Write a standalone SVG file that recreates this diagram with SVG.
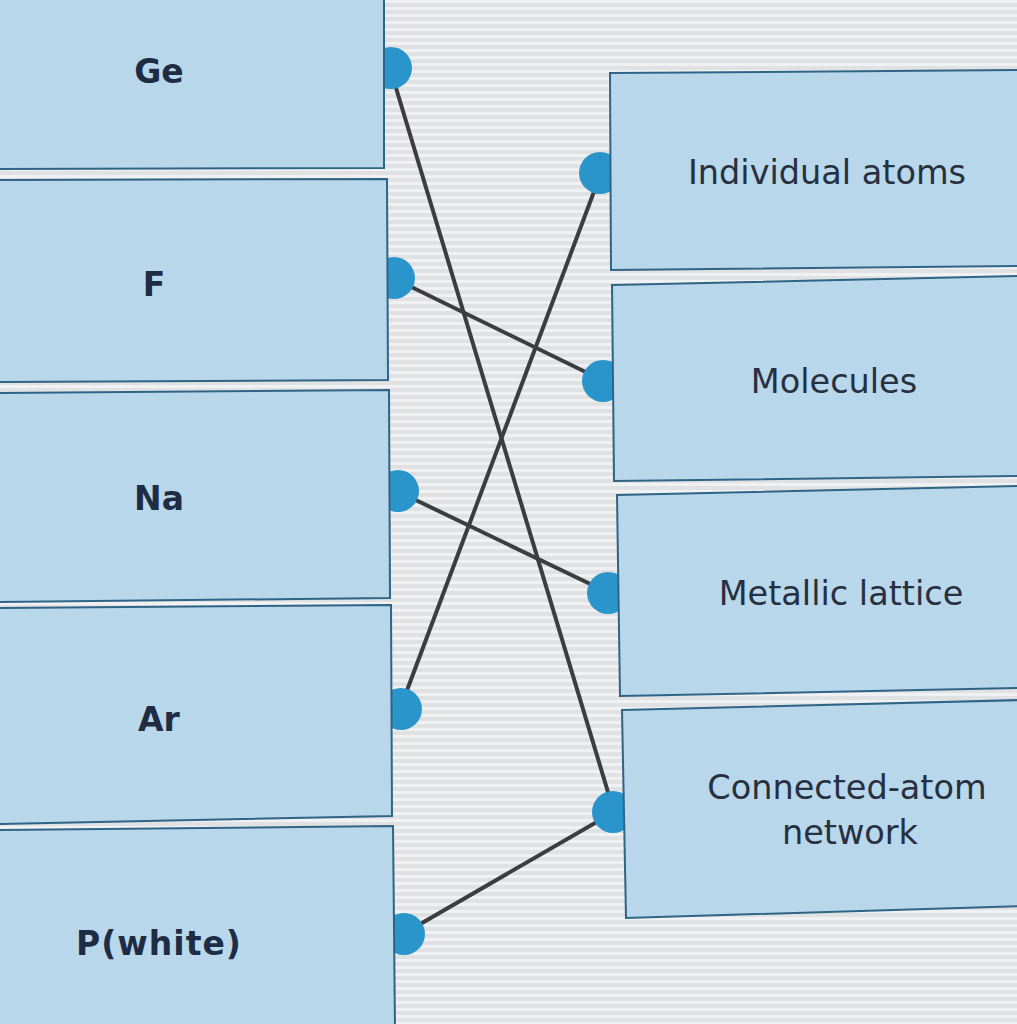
<svg xmlns="http://www.w3.org/2000/svg" width="1017" height="1024" viewBox="0 0 1017 1024">
<defs>
<pattern id="scan" width="8" height="7" patternUnits="userSpaceOnUse">
<rect width="8" height="7" fill="#e0e1e2"/>
<rect y="0" width="8" height="3" fill="#f0f1f2"/>
</pattern>
<style>
.box{fill:#b9d7ea;stroke:#2f6486;stroke-width:2}
.dot{fill:#2a95cb}
.link{stroke:#3b3d40;stroke-width:4;stroke-linecap:round;fill:none}
.lt{font-family:"DejaVu Sans",Verdana,sans-serif;font-weight:bold;font-size:33px;fill:#1e2d44;text-anchor:middle}
.rt{font-family:"DejaVu Sans",Verdana,sans-serif;font-size:33.5px;fill:#263040;text-anchor:middle}
</style>
</defs>
<rect width="1017" height="1024" fill="url(#scan)"/>
<g id="connectors">
<line class="link" x1="390" y1="68" x2="614" y2="812"/>
<line class="link" x1="393" y1="278" x2="604" y2="381"/>
<line class="link" x1="397" y1="491" x2="609" y2="593"/>
<line class="link" x1="400" y1="709" x2="601" y2="173"/>
<line class="link" x1="403" y1="934" x2="614" y2="812"/>
</g>
<g id="node-ge"><circle class="dot" cx="391" cy="68" r="21"/><polygon class="box" points="-5,-3 384,-3 384,168 -5,169"/><text class="lt" x="159" y="83">Ge</text></g>
<g id="node-f"><circle class="dot" cx="394" cy="278" r="21"/><polygon class="box" points="-5,180 387,179 388,380 -5,382"/><text class="lt" x="154" y="296">F</text></g>
<g id="node-na"><circle class="dot" cx="398" cy="491" r="21"/><polygon class="box" points="-5,393 389,390 390,598 -5,602"/><text class="lt" x="159" y="510">Na</text></g>
<g id="node-ar"><circle class="dot" cx="401" cy="709" r="21"/><polygon class="box" points="-5,608 391,605 392,816 -5,824"/><text class="lt" x="159" y="731">Ar</text></g>
<g id="node-p"><circle class="dot" cx="404" cy="934" r="21"/><polygon class="box" points="-5,830 393,826 395,1030 -5,1030"/><text class="lt" x="159" y="955" style="letter-spacing:1px">P(white)</text></g>
<g id="node-individual"><circle class="dot" cx="600" cy="173" r="21"/><polygon class="box" points="610,73 1022,70 1022,266 611,270"/><text class="rt" x="827" y="184">Individual atoms</text></g>
<g id="node-molecules"><circle class="dot" cx="603" cy="381" r="21"/><polygon class="box" points="612,285 1022,276 1022,476 614,481"/><text class="rt" x="834" y="393">Molecules</text></g>
<g id="node-metallic"><circle class="dot" cx="608" cy="593" r="21"/><polygon class="box" points="617,495 1022,486 1022,688 620,696"/><text class="rt" x="841" y="605">Metallic lattice</text></g>
<g id="node-network"><circle class="dot" cx="613" cy="812" r="21"/><polygon class="box" points="622,710 1022,700 1022,906 626,918"/><text class="rt" x="847" y="799">Connected-atom</text><text class="rt" x="850" y="844">network</text></g>
</svg>
